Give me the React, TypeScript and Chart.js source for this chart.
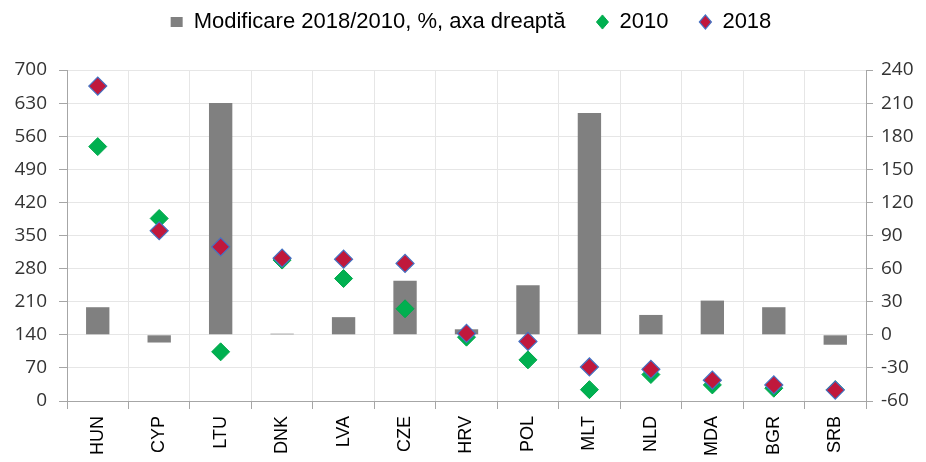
import React, { useEffect, useRef } from "react";
import { Chart, registerables } from "chart.js";

Chart.register(...registerables);

const categories = ["HUN", "CYP", "LTU", "DNK", "LVA", "CZE", "HRV", "POL", "MLT", "NLD", "MDA", "BGR", "SRB"];
const changePct = [25, -7, 210, 1, 16, 49, 5, 45, 201, 18, 31, 25, -9];
const values2010 = [538, 386, 104, 298, 259, 195, 135, 87, 24, 56, 34, 27, 24];
const values2018 = [666, 360, 326, 302, 300, 291, 143, 126, 72, 67, 44, 34, 23];
const leftTicks = [0, 70, 140, 210, 280, 350, 420, 490, 560, 630, 700];
const rightTicks = [-60, -30, 0, 30, 60, 90, 120, 150, 180, 210, 240];

const labelBar = "Modificare 2018/2010, %, axa dreaptă";
const label2010 = "2010";
const label2018 = "2018";

const legendSpacer = {
  id: "legendSpacer",
  afterInit(chart: any) {
    const legend = chart.legend;
    if (!legend || legend._spacerPatched) return;
    const origFit = legend.fit.bind(legend);
    legend.fit = function () {
      origFit();
      this.height += 27;
    };
    const origDraw = legend.draw.bind(legend);
    legend.draw = function () {
      const ctx = this.ctx;
      ctx.save();
      ctx.translate(8, 0);
      origDraw();
      ctx.restore();
    };
    legend._spacerPatched = true;
  },
};

export default function App() {
  const ref = useRef<HTMLCanvasElement | null>(null);

  useEffect(() => {
    if (!ref.current) return;
    const chart = new Chart(ref.current, {
      type: "bar",
      data: {
        labels: categories,
        datasets: [
          {
            type: "bar",
            label: labelBar,
            data: changePct,
            yAxisID: "y1",
            backgroundColor: "#808080",
            borderWidth: 0,
            barPercentage: 0.38,
            categoryPercentage: 1,
            pointStyle: "rect",
            order: 3,
          } as any,
          {
            type: "line",
            label: label2010,
            data: values2010,
            yAxisID: "y",
            showLine: false,
            pointStyle: "rectRot",
            pointRadius: 9,
            pointHoverRadius: 9,
            pointBackgroundColor: "#00B050",
            pointBorderColor: "#00A84C",
            pointBorderWidth: 1,
            backgroundColor: "#00B050",
            borderColor: "#00A84C",
            order: 2,
          } as any,
          {
            type: "line",
            label: label2018,
            data: values2018,
            yAxisID: "y",
            showLine: false,
            pointStyle: "rectRot",
            pointRadius: 9,
            pointHoverRadius: 9,
            pointBackgroundColor: "#C0183C",
            pointBorderColor: "#4472C4",
            pointBorderWidth: 1.2,
            backgroundColor: "#C0183C",
            borderColor: "#4472C4",
            order: 1,
          } as any,
        ],
      },
      options: {
        animation: false,
        responsive: true,
        maintainAspectRatio: false,
        layout: { padding: { top: -20, left: 0, right: 0, bottom: 0 } },
        plugins: {
          tooltip: { enabled: false },
          legend: {
            position: "top",
            labels: {
              usePointStyle: true,
              pointStyleWidth: 12,
              boxHeight: 10,
              padding: 31,
              color: "#000",
              font: { family: "'Liberation Sans', Arial, sans-serif", size: 22 },
              sort: (a: any, b: any) => a.datasetIndex - b.datasetIndex,
            },
          },
        },
        scales: {
          x: {
            offset: true,
            grid: {
              offset: true,
              color: "#E6E6E6",
              tickColor: "#A6A6A6",
              tickLength: 8,
              lineWidth: 1,
            },
            border: { color: "#A6A6A6", width: 1 },
            ticks: {
              maxRotation: 90,
              minRotation: 90,
              padding: 7,
              color: "#000",
              font: { family: "'Liberation Sans', Arial, sans-serif", size: 18 },
            },
            afterFit: (s: any) => {
              s.height = 61;
            },
          },
          y: {
            position: "left",
            min: 0,
            max: 700,
            afterBuildTicks: (s: any) => {
              s.ticks = leftTicks.map((v) => ({ value: v }));
            },
            grid: { color: "#E6E6E6", tickColor: "#A6A6A6", tickLength: 8 },
            border: { color: "#A6A6A6", width: 1 },
            ticks: {
              padding: 12,
              color: "#333",
              font: { family: "'Open Sans', sans-serif", size: 19 },
            },
            afterFit: (s: any) => {
              s.width = 67;
            },
          },
          y1: {
            position: "right",
            min: -60,
            max: 240,
            afterBuildTicks: (s: any) => {
              s.ticks = rightTicks.map((v) => ({ value: v }));
            },
            grid: { drawOnChartArea: false, tickColor: "#A6A6A6", tickLength: 7 },
            border: { color: "#A6A6A6", width: 1 },
            ticks: {
              padding: 8,
              color: "#333",
              font: { family: "'Open Sans', sans-serif", size: 19 },
            },
            afterFit: (s: any) => {
              s.width = 60;
            },
          },
        },
      } as any,
      plugins: [legendSpacer],
    });
    return () => chart.destroy();
  }, []);

  return (
    <div style={{ position: "absolute", left: 0, top: 0, width: 926, height: 462 }}>
      <canvas ref={ref} />
    </div>
  );
}
